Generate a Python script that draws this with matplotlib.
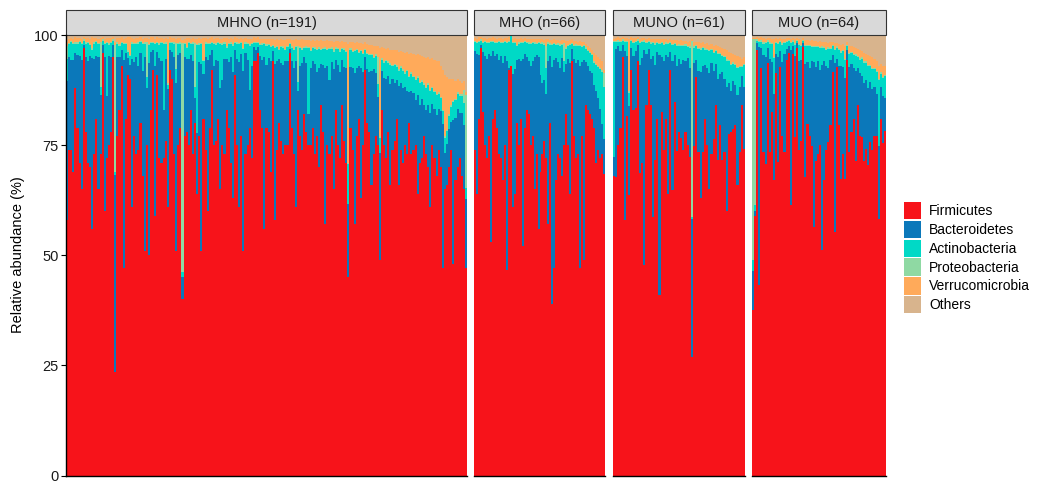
import numpy as np
import matplotlib.pyplot as plt
from matplotlib.patches import Patch, Rectangle

plt.rcParams['font.family'] = ['Liberation Sans', 'DejaVu Sans']

phyla = ['Firmicutes', 'Bacteroidetes', 'Actinobacteria',
         'Proteobacteria', 'Verrucomicrobia', 'Others']
colors = ['#F7131A', '#0B78BA', '#00D9C6', '#8FD9A3', '#FFAA5A', '#D8B48D']

# relative abundance (%) per sample.
# Bacteroidetes is what is left up to 100 %.
mhno_firm = [
    58, 74, 74, 69, 88, 79, 71, 65, 97, 78,
    71, 70, 56, 73, 81, 65, 73, 96, 60, 72,
    75, 78, 95, 23.5, 77, 83, 93, 47, 81, 91,
    90, 61, 77, 73, 74, 80, 68, 51, 75, 50,
    83, 92, 59, 91, 72, 71, 72, 76, 61, 92,
    90, 73, 51, 75, 79, 40, 77, 78, 75, 83,
    73, 80, 64, 77, 51, 81, 74, 60, 79, 92,
    75, 76, 81, 65, 75, 73, 83, 79, 71, 63,
    91, 75, 61, 77, 51, 73, 75, 79, 72, 94,
    94, 96, 83, 79, 56, 79, 78, 69, 94, 58,
    74, 80, 76, 73, 75, 75, 96, 79, 73, 61,
    83, 77, 74, 82, 78, 75, 75, 79, 73, 77,
    70, 84, 78, 57, 75, 73, 77, 65, 83, 75,
    72, 84, 76, 71, 45, 79, 74, 57, 77, 81,
    63, 75, 92, 80, 78, 66, 73, 77, 75, 49,
    83, 75, 72, 78, 66, 74, 76, 81, 66, 74,
    71, 75, 73, 80, 73, 74, 75, 64, 71, 72,
    77, 73, 70, 61, 75, 72, 68, 74, 70, 47,
    65, 66, 70, 74, 48, 67, 70, 72, 68, 65,
    47]
mhno_actino = [
    5, 3, 4, 3.5, 2, 2.5, 3, 3.5, 1, 3,
    4, 2.5, 2, 3.5, 3, 3, 2, 1, 3, 12,
    2.5, 3, 1, 0.5, 3, 2.5, 1.5, 3.5, 2, 1.5,
    2, 3.5, 4, 3, 5, 2.5, 6, 3, 2.5, 4,
    2, 1.5, 5, 2, 3, 4, 15, 3.5, 1, 1.5,
    2, 3, 3, 2.5, 2, 1, 3, 2.5, 3.5, 2.5,
    4, 2.5, 20, 4, 4.5, 3, 3, 3.5, 2.5, 1.5,
    5, 3.5, 4, 10, 8, 3.5, 2.5, 4, 3, 6,
    1.5, 3.5, 4, 2.5, 5, 2, 3.5, 10, 5, 1,
    1.5, 1, 2.5, 3.5, 3, 4.5, 3, 3, 1, 3.5,
    3, 2, 3.5, 4, 2.5, 3, 1, 3, 4, 3,
    2, 4, 3, 2, 3.5, 15, 4, 3, 3.5, 5,
    4.5, 3, 3.5, 4.5, 3.5, 7, 3, 4, 2.5, 3.5,
    4.5, 2.5, 4, 3.5, 9, 4, 3.5, 5, 4, 3,
    4, 4, 1.5, 3.5, 4, 3.5, 2.5, 4, 3, 3.5,
    2.5, 3.5, 4, 3, 4.5, 3, 4, 3, 3.5, 3.5,
    4, 3, 4.5, 3.5, 4, 3.5, 4.5, 4, 5, 4,
    4.5, 5, 4.5, 5, 3.5, 4, 4.5, 3.5, 3, 3,
    3.5, 3, 3, 3.5, 4, 4, 3.5, 4, 4, 5,
    2.5]
mhno_proteo = [
    3, 0.3, 0.3, 0.3, 0.3, 0.3, 0.3, 0.3, 0.3, 0.3,
    0.3, 0.3, 0.3, 0.3, 0.3, 0.3, 10, 0.3, 0.3, 0.3,
    0.3, 0.3, 0.3, 29, 0.3, 0.3, 0.3, 0.3, 0.3, 0.3,
    0.3, 0.3, 0.3, 0.3, 0.3, 0.3, 0.3, 0.3, 8, 0.3,
    0.3, 0.3, 0.3, 0.3, 0.3, 0.3, 0.3, 0.3, 0.3, 0.3,
    0.3, 0.3, 6, 0.3, 0.3, 52, 0.3, 0.3, 0.3, 0.3,
    0.3, 10, 0.3, 0.3, 0.3, 0.3, 0.3, 0.3, 0.3, 0.3,
    0.3, 0.3, 0.3, 0.3, 0.3, 0.3, 0.3, 0.3, 0.3, 0.3,
    0.3, 0.3, 0.3, 0.3, 0.3, 0.3, 0.3, 0.3, 0.3, 0.3,
    0.3, 0.3, 0.3, 0.3, 0.3, 0.3, 0.3, 0.3, 0.3, 0.3,
    0.3, 0.3, 0.3, 0.3, 0.3, 0.3, 0.3, 0.3, 0.3, 0.3,
    8, 0.3, 0.3, 0.3, 0.3, 0.3, 0.3, 0.3, 0.3, 0.3,
    0.3, 0.3, 0.3, 0.3, 0.3, 0.3, 0.3, 0.3, 0.3, 0.3,
    0.3, 0.3, 0.3, 0.3, 0.3, 0.3, 0.3, 0.3, 0.3, 0.3,
    0.3, 0.3, 0.3, 0.3, 0.3, 0.3, 0.3, 0.3, 6, 0.3,
    0.3, 0.3, 0.3, 0.3, 0.3, 0.3, 0.3, 0.3, 0.3, 0.3,
    0.3, 0.3, 0.3, 0.3, 0.3, 0.3, 0.3, 0.3, 0.3, 0.3,
    0.3, 0.3, 0.3, 0.3, 0.3, 0.3, 0.3, 0.3, 0.3, 0.3,
    0.3, 0.3, 0.3, 0.3, 0.3, 0.3, 0.3, 0.3, 0.3, 3,
    21]
mhno_verruco = [
    1, 1, 0.8, 1, 1.2, 1, 0.8, 1, 0.5, 1,
    1, 1.2, 2.5, 1, 0.8, 1, 1, 0.5, 1, 1,
    1.2, 1, 0.5, 0.7, 1, 1.5, 1, 1, 1.2, 3,
    4, 1, 1, 1.2, 1, 0.8, 1, 1, 1, 1.2,
    1, 1, 1, 1, 1.2, 1, 1, 1, 10, 1,
    1, 1, 1, 1.2, 1, 0.7, 1, 2, 1, 1,
    1, 1, 1, 1.2, 1, 5, 1, 1, 1.2, 1,
    1, 1.2, 1, 1, 1, 1, 2, 1, 1, 1.2,
    1, 1, 1, 1, 2, 1, 1, 1.2, 1, 1,
    1, 1, 1.2, 1, 1, 1.2, 1, 1.5, 1.5, 1.5,
    1.5, 2, 1.5, 1.5, 2, 1.5, 1, 1.5, 2, 1.5,
    1.5, 1.5, 2, 1.5, 1.5, 1.5, 2, 1.5, 1.5, 2,
    1.5, 2, 1.5, 1.5, 2, 1.5, 1.5, 2, 1.5, 1.5,
    2, 1.5, 1.5, 2, 27, 1.5, 2, 1.5, 1.5, 2,
    1.5, 2, 1.5, 2, 2, 2, 2.5, 2, 2.5, 20,
    2.5, 3, 2.5, 3, 3, 3.5, 3, 3.5, 4, 3.5,
    4, 4.5, 4, 5, 4.5, 5, 5.5, 5, 6, 5.5,
    6, 6.5, 6, 7, 6.5, 7, 7.5, 7, 7, 9,
    14, 12, 8, 6, 5, 4, 3, 3, 2.5, 2,
    0.7]
mhno_others = [
    1.5, 0.8, 0.6, 0.8, 0.5, 0.7, 0.6, 0.8, 0.5, 0.7,
    0.6, 0.8, 0.5, 0.7, 0.6, 0.8, 0.7, 0.5, 0.8, 0.6,
    0.7, 0.6, 0.5, 1.5, 0.7, 0.6, 0.5, 0.8, 0.6, 0.5,
    0.5, 0.7, 0.8, 0.6, 0.7, 0.5, 0.8, 0.7, 0.6, 0.8,
    0.5, 0.5, 0.8, 0.5, 0.7, 0.6, 0.8, 0.7, 1, 0.5,
    0.6, 0.7, 0.8, 0.6, 0.7, 1.2, 0.8, 0.7, 0.6, 0.8,
    0.7, 0.8, 1, 0.7, 0.8, 0.6, 0.7, 0.8, 0.6, 0.5,
    0.8, 0.7, 0.6, 0.8, 0.9, 0.7, 0.6, 0.8, 0.7, 0.9,
    0.5, 0.7, 0.8, 0.6, 0.9, 0.7, 0.8, 0.9, 0.8, 0.5,
    0.6, 0.5, 0.8, 0.9, 0.8, 0.9, 1, 1, 0.8, 1.2,
    1, 1.2, 1, 1.1, 1.2, 1, 0.8, 1.1, 1.2, 1,
    1.1, 1.2, 1, 1.2, 1.1, 1.2, 1.3, 1.2, 1.3, 1.2,
    1.3, 1.2, 1.4, 1.3, 1.2, 1.4, 1.3, 1.5, 1.3, 1.4,
    1.5, 1.4, 1.5, 1.6, 2, 1.5, 1.6, 1.8, 1.7, 1.8,
    1.8, 2, 1.6, 2, 2.2, 2.3, 2.5, 2.4, 2.6, 3,
    2.8, 3, 3.2, 3, 3.4, 3.3, 3.5, 3.4, 3.8, 3.6,
    3.8, 4, 3.9, 4.2, 4, 4.3, 4.5, 4.4, 4.6, 4.8,
    5, 5.2, 5, 5.5, 5.3, 5.6, 5.8, 6, 7, 8,
    9, 9.5, 10, 10, 10, 10.5, 10, 10.5, 11, 10.5,
    13]

mho_firm = [
    74, 64, 81, 97, 82.5, 75, 72, 77, 53, 81,
    83, 79, 73, 72, 67, 75, 46.6, 92, 93, 61,
    64, 80, 75, 81, 52, 79, 83, 82, 75, 77,
    65, 73, 56, 69, 73, 76, 72, 57, 80, 39,
    47, 67, 73, 72, 68, 75, 82, 75, 64, 94,
    77, 72, 73, 47, 77, 49, 84, 83, 82, 81,
    79, 71, 74, 72, 73, 68.5]
mho_actino = [
    2, 2.5, 3, 1, 2, 3, 3.5, 2.5, 3, 2,
    3, 2.5, 4, 3, 4.5, 3, 4, 6, 8, 7,
    6, 3, 3.5, 4, 3.5, 2.5, 3, 4, 5, 4,
    3, 2.5, 3, 7, 9, 8, 6, 4, 2.5, 5,
    3.5, 3, 4, 5, 3, 2.5, 3.5, 3, 4, 1,
    3, 4, 3, 4.5, 3.5, 3, 3, 3.5, 4, 4,
    5, 6, 7, 9, 12, 12]
mho_proteo = [
    0.3, 0.3, 0.3, 0.3, 0.3, 0.3, 0.3, 0.3, 0.3, 0.3,
    0.3, 0.3, 0.3, 0.3, 0.3, 0.3, 0.3, 0.3, 0.3, 0.3,
    0.3, 0.3, 0.3, 0.3, 0.3, 0.3, 0.3, 0.3, 0.3, 0.3,
    0.3, 0.3, 0.3, 0.3, 0.3, 0.3, 5, 0.3, 0.3, 0.3,
    0.3, 0.3, 0.3, 0.3, 0.3, 4, 0.3, 0.3, 0.3, 0.3,
    0.3, 0.3, 0.3, 0.3, 0.3, 0.3, 0.3, 0.3, 0.3, 0.3,
    0.3, 0.3, 0.3, 0.3, 0.3, 3]
mho_verruco = [
    0.8, 0.8, 0.8, 0.5, 0.8, 0.8, 0.8, 0.8, 0.8, 0.8,
    0.8, 0.8, 0.8, 0.8, 0.8, 0.8, 0.8, 0.8, 0.8, 0.8,
    0.8, 1.5, 0.8, 0.8, 0.8, 0.8, 0.8, 0.8, 0.8, 0.8,
    0.8, 0.8, 0.8, 0.8, 0.8, 0.8, 1.5, 0.8, 0.8, 0.8,
    0.8, 0.8, 0.8, 0.8, 0.8, 0.8, 1.5, 0.8, 0.8, 0.8,
    0.8, 0.8, 0.8, 0.8, 0.8, 0.8, 0.8, 0.8, 0.8, 0.8,
    2, 2, 2, 2, 2, 0.7]
mho_others = [
    0.6, 0.8, 0.5, 0.5, 0.7, 0.6, 0.8, 0.7, 0.6, 0.5,
    0.7, 0.8, 0.6, 0.7, 0.8, 0.6, 0.7, 0.5, 0.6, 0.8,
    0.7, 0.8, 0.9, 0.7, 0.8, 0.6, 0.8, 0.9, 1, 0.8,
    0.9, 1, 0.8, 1, 0.9, 1.1, 1, 0.9, 1.1, 1.2,
    1, 1.2, 1.1, 1.3, 1.2, 1.1, 1.3, 1.4, 1.2, 1,
    1.4, 1.3, 1.5, 1.4, 1.6, 1.5, 2, 2.5, 3, 3.5,
    4, 4.5, 5, 5.5, 6, 8]

muno_firm = [
    68, 67.8, 75, 79, 95, 58, 81.7, 63.6, 92, 83,
    83.5, 94, 68.6, 71, 47.7, 84, 92, 84, 58.7, 71.6,
    81, 41, 82.5, 74, 81, 64, 92, 64.8, 84.8, 73.6,
    78, 76.7, 74, 78, 75, 72.4, 27, 74.8, 90.5, 73.4,
    63, 73.4, 81, 75, 65, 73, 76.5, 84, 71.6, 79.5,
    71.6, 73.4, 60, 77.5, 78, 78.7, 79.5, 66, 73.4, 84,
    74.2]
muno_actino = [
    26, 1.5, 1, 2, 1, 2, 3, 3, 1.5, 3,
    2, 1, 5, 3.5, 2, 2.5, 1.5, 3.5, 3, 4.5,
    2, 2.5, 3, 3.5, 2.5, 3, 2, 3.5, 2.5, 4.5,
    3, 4, 3, 3.5, 2.5, 4.5, 0.5, 3.5, 3, 5,
    5, 4, 3.5, 4, 5, 3, 4, 3, 5.5, 4.5,
    3.5, 5, 6, 5, 6, 4, 4.5, 6, 4.5, 2,
    5]
muno_proteo = [
    0.3, 0.3, 0.3, 0.3, 0.3, 0.3, 0.3, 0.3, 0.3, 0.3,
    0.3, 0.3, 0.3, 0.3, 0.3, 0.3, 0.3, 0.3, 0.3, 0.3,
    0.3, 0.3, 0.3, 0.3, 0.3, 0.3, 0.3, 0.3, 0.3, 0.3,
    0.3, 0.3, 0.3, 0.3, 0.3, 0.3, 40, 0.3, 0.3, 0.3,
    0.3, 0.3, 0.3, 0.3, 0.3, 0.3, 0.3, 0.3, 0.3, 0.3,
    0.3, 0.3, 0.3, 0.3, 0.3, 0.3, 0.3, 0.3, 0.3, 0.3,
    0.3]
muno_verruco = [
    0.5, 0.7, 0.7, 0.8, 0.5, 0.7, 0.8, 12, 0.6, 0.8,
    0.7, 0.5, 0.8, 0.7, 0.6, 0.8, 0.7, 0.8, 0.7, 1,
    0.7, 0.8, 0.7, 1, 0.8, 0.7, 0.6, 0.8, 0.7, 1,
    0.8, 1, 0.9, 0.8, 1, 1.2, 0.5, 1, 0.8, 1.2,
    1.2, 1, 1, 1.3, 1.2, 1, 1.4, 1, 1.5, 1.3,
    1.5, 1.5, 2, 1.8, 2.5, 2, 2, 2.5, 2, 1.5,
    1.5]
muno_others = [
    0.8, 0.6, 0.5, 0.6, 0.5, 0.7, 0.6, 0.8, 0.5, 0.7,
    0.6, 0.5, 0.8, 0.7, 0.6, 0.8, 0.7, 0.9, 0.8, 0.9,
    0.8, 1, 0.9, 1, 0.9, 1.1, 1, 1.2, 1.1, 1.2,
    1.3, 1.2, 1.4, 1.3, 1.5, 1.4, 0.8, 1.6, 1.5, 1.7,
    1.8, 1.7, 2, 1.9, 2.2, 2.1, 2.4, 2.3, 2.6, 2.8,
    3, 3.2, 3.5, 3.8, 4, 4.2, 4.5, 4.8, 5, 5.5,
    5]

muo_firm = [
    37.5, 59, 96.6, 43.2, 92.4, 73.4, 70.8, 93.6, 73.4, 82.5,
    67, 91.3, 71.2, 92.8, 77, 73.4, 94.3, 96, 61.4, 95.8,
    76.8, 97, 74, 76, 97.3, 67.8, 79.8, 77, 74.9, 56.4,
    71.5, 73, 75, 51.2, 67, 73.8, 75.7, 79.5, 91.7, 55.3,
    92.8, 79.5, 67.4, 73, 67.4, 94.3, 73.4, 78, 81, 71.5,
    84, 77, 76.8, 71.5, 74.2, 70.4, 75.8, 74, 77, 77,
    58.3, 81, 75.4, 78.3]
muo_actino = [
    2.5, 1.5, 0.5, 1, 1.5, 2.5, 3, 1.5, 3.5, 4,
    8, 2.5, 3, 2, 4, 2.5, 1.5, 1, 1.5, 1,
    2.5, 0.5, 3.5, 3, 0.5, 4, 3.5, 5, 3, 3.5,
    4.5, 3, 5, 4, 3, 3.5, 4.5, 2.5, 2, 3,
    2.5, 3.5, 3, 3.5, 4, 1, 3, 2.5, 3, 3.5,
    2.5, 3, 4, 4.5, 4, 5, 3.5, 4.5, 4, 5,
    15, 3, 4, 5]
muo_proteo = [
    50, 37.5, 0.3, 0.3, 0.3, 0.3, 0.3, 0.3, 0.3, 0.3,
    0.3, 0.3, 0.3, 0.3, 0.3, 0.3, 0.3, 0.3, 0.3, 0.3,
    0.3, 0.3, 0.3, 0.3, 0.3, 0.3, 0.3, 0.3, 0.3, 0.3,
    0.3, 0.3, 0.3, 0.3, 0.3, 0.3, 0.3, 0.3, 0.3, 0.3,
    0.3, 0.3, 0.3, 0.3, 0.3, 0.3, 0.3, 0.3, 0.3, 0.3,
    0.3, 0.3, 0.3, 0.3, 0.3, 0.3, 0.3, 0.3, 0.3, 0.3,
    0.3, 0.3, 0.3, 0.3]
muo_verruco = [
    0.3, 0.3, 0.5, 0.8, 0.7, 1, 0.8, 0.6, 1, 1,
    4, 0.8, 1, 0.7, 1, 0.8, 0.6, 0.5, 0.8, 0.5,
    1, 0.5, 1, 1.2, 0.5, 1, 1.2, 1, 1.3, 1,
    1.2, 1, 1.3, 1, 1.2, 1.5, 1, 1.3, 0.8, 1.2,
    0.8, 1.2, 1.5, 1.3, 3, 0.7, 1.5, 1.2, 1.5, 1.4,
    1.5, 1.8, 1.5, 2, 1.8, 2.2, 2, 2.5, 2, 2.2,
    3, 2, 2.5, 2]
muo_others = [
    0.7, 0.7, 0.5, 0.6, 0.5, 0.7, 0.8, 0.6, 0.7, 0.8,
    1, 0.7, 0.8, 0.6, 0.9, 0.8, 0.7, 0.6, 0.8, 0.7,
    0.9, 0.6, 1, 1.1, 0.6, 1.2, 1.1, 1.3, 1.2, 1.4,
    1.3, 1.5, 1.4, 1.6, 1.5, 1.7, 1.8, 1.6, 1.5, 1.9,
    1.8, 2, 2.2, 2.1, 2.4, 1.5, 2.5, 2.6, 2.8, 3,
    3.2, 3.5, 3.6, 4, 4.2, 4.5, 4.8, 5, 5.5, 6,
    7, 6.5, 7, 7]

groups = [
    ('MHNO', mhno_firm, mhno_actino, mhno_proteo, mhno_verruco, mhno_others),
    ('MHO', mho_firm, mho_actino, mho_proteo, mho_verruco, mho_others),
    ('MUNO', muno_firm, muno_actino, muno_proteo, muno_verruco, muno_others),
    ('MUO', muo_firm, muo_actino, muo_proteo, muo_verruco, muo_others),
]

# panel extents in pixels (left, right)
panel_px = [(66, 467), (474, 605), (613, 745), (752, 886)]
W, H = 1046, 486
top_px, bot_px = 35, 475.5
strip_h = 25

fig = plt.figure(figsize=(W / 100, H / 100), dpi=100)

for i, (name, firm, actino, proteo, verruco, others) in enumerate(groups):
    firm, actino, proteo, verruco, others = [np.array(s, dtype=float)
                                             for s in (firm, actino, proteo, verruco, others)]
    bact = np.clip(100 - (firm + actino + proteo + verruco + others), 0, None)
    stack = [firm, bact, actino, proteo, verruco, others]
    n = len(firm)

    x0, x1 = panel_px[i]
    ax = fig.add_axes([x0 / W, 1 - bot_px / H, (x1 - x0) / W, (bot_px - top_px) / H])
    x = np.arange(n)
    bottom = np.zeros(n)
    for v, c in zip(stack, colors):
        ax.bar(x, v, bottom=bottom, width=1.0, color=c, linewidth=0, antialiased=False)
        bottom += v
    ax.set_xlim(-0.5, n - 0.5)
    ax.set_ylim(0, 100)
    ax.set_xticks([])
    for s in ['top', 'right']:
        ax.spines[s].set_visible(False)
    ax.spines['bottom'].set_linewidth(1.0)
    if i == 0:
        ax.spines['left'].set_linewidth(1.0)
        ax.set_yticks([0, 25, 50, 75, 100])
        ax.tick_params(axis='y', length=3.5, width=0.8, labelsize=10.5,
                       labelcolor='#1A1A1A', pad=2)
    else:
        ax.spines['left'].set_visible(False)
        ax.set_yticks([])
    # facet strip
    sh = strip_h / (bot_px - top_px)
    ax.add_patch(Rectangle((0, 1), 1, sh, transform=ax.transAxes, clip_on=False,
                           facecolor='#D9D9D9', edgecolor='#333333', linewidth=0.8))
    ax.text(0.5, 1 + sh / 2, f'{name} (n={n})', transform=ax.transAxes,
            ha='center', va='center', fontsize=10.5, color='#1A1A1A')

fig.text(18 / W, 1 - 255 / H, 'Relative abundance (%)', rotation=90,
         ha='center', va='center', fontsize=10.5)

handles = [Patch(facecolor=c, edgecolor='none', label=p) for p, c in zip(phyla, colors)]
fig.legend(handles=handles, loc='upper left', bbox_to_anchor=(904 / W, 1 - 202 / H),
           frameon=False, fontsize=10, handlelength=1.25, handleheight=1.55,
           handletextpad=0.55, labelspacing=0.1, borderpad=0, borderaxespad=0)

fig.savefig('out.png', dpi=100)
